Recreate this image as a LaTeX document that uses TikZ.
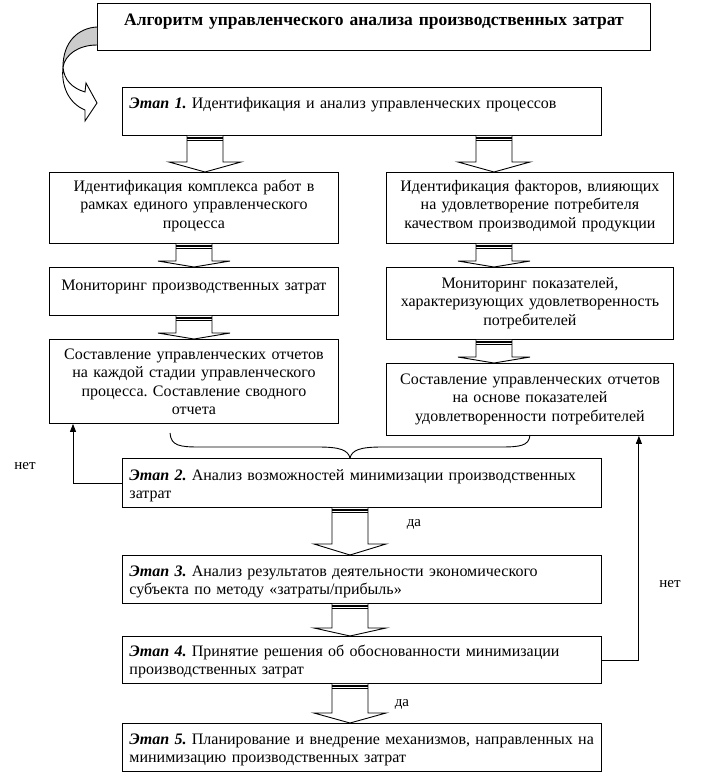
\documentclass[tikz,border=0pt]{standalone}
\usepackage{fontspec}
\setmainfont{Liberation Serif}
\usetikzlibrary{positioning, arrows.meta, calc}

\tikzset{
  box/.style={draw, line width=0.9pt, fill=white, inner ysep=0pt, anchor=north west},
  stagebox/.style={box, text width=465pt, inner xsep=7pt, align=left},
  colbox/.style={box, inner xsep=4pt, align=center},
  fback/.style={line width=0.9pt, -{Triangle[width=6pt,length=8pt]}},
  lbl/.style={inner sep=1pt, font=\fontsize{15pt}{17pt}\selectfont},
}

\newcommand{\stage}[1]{\textbf{\textit{Этап #1.}}}

% hollow block arrow: x, upper node, lower node, head height
\newcommand{\blockarrow}[4]{%
  \coordinate (bt) at (#1,0 |- #2.south);
  \coordinate (bb) at (#1,0 |- #3.north);
  \draw[line width=0.9pt, fill=white] ($(bt)+(-18,0)$) -- ($(bb)+(-18,-#4)$) -- ($(bb)+(-36,-#4)$)
    -- (bb) -- ($(bb)+(36,-#4)$) -- ($(bb)+(18,-#4)$) -- ($(bt)+(18,0)$);
  \draw[line width=1.5pt] ($(bt)+(-18,2.3)$) -- ($(bt)+(18,2.3)$);
  \draw[line width=0.9pt] ($(bt)+(-18,5)$) -- ($(bt)+(18,5)$);
}

\begin{document}
\frenchspacing
\begin{tikzpicture}[x=1pt, y=-1pt, font=\fontsize{16pt}{18.5pt}\selectfont]
    \useasboundingbox (0,0) rectangle (712,774);

    % Title
    \node[box, text width=545pt, inner xsep=4pt, align=center, text height=22pt, text depth=25pt,
      font=\fontsize{17.5pt}{20pt}\selectfont] (titlebox) at (97,3)
      {\textbf{Алгоритм управленческого анализа производственных затрат}};

    % Stage 1
    \node[stagebox, text height=21pt, text depth=27pt] (st1) at (122,87)
      {\stage{1} Идентификация и анализ управленческих процессов};

    % Two columns
    \node[colbox, text width=281pt, text height=19pt, text depth=52pt] (lid) at (49,172)
      {Идентификация комплекса работ в\\ рамках единого управленческого\\ процесса};
    \node[colbox, text width=279pt, text height=19pt, text depth=52pt] (rid) at (386,172)
      {Идентификация факторов, влияющих\\ на удовлетворение потребителя\\ качеством производимой продукции};
    \node[colbox, text width=281pt, text height=23pt, text depth=25pt] (lmon) at (49,267)
      {Мониторинг производственных затрат};
    \node[colbox, text width=279pt, text height=21pt, text depth=51pt] (rmon) at (386,267)
      {Мониторинг показателей,\\ характеризующих удовлетворенность\\ потребителей};
    \node[colbox, text width=281pt, text height=20pt, text depth=64pt] (lrep) at (49,339)
      {Составление управленческих отчетов\\ на каждой стадии управленческого\\ процесса. Составление сводного\\ отчета};
    \node[colbox, text width=279pt, text height=21pt, text depth=51pt] (rrep) at (386,363)
      {Составление управленческих отчетов\\ на основе показателей\\ удовлетворенности потребителей};

    % Stages 2-5
    \node[stagebox, text height=22pt, text depth=27pt] (st2) at (122,458)
      {\stage{2} Анализ возможностей минимизации производственных\\ затрат};
    \node[stagebox, text height=21pt, text depth=27pt] (st3) at (122,555)
      {\stage{3} Анализ результатов деятельности экономического\\ субъекта по методу «затраты/прибыль»};
    \node[stagebox, text height=20pt, text depth=27pt] (st4) at (122,636)
      {\stage{4} Принятие решения об обоснованности минимизации\\ производственных затрат};
    \node[stagebox, text height=21pt, text depth=27pt] (st5) at (122,723)
      {\stage{5} Планирование и внедрение механизмов, направленных на\\ минимизацию производственных затрат};

    % Block arrows
    \blockarrow{205}{st1}{lid}{10}
    \blockarrow{494}{st1}{rid}{10}
    \blockarrow{194}{lid}{lmon}{6}
    \blockarrow{494}{rid}{rmon}{6}
    \blockarrow{194}{lmon}{lrep}{6}
    \blockarrow{494}{rmon}{rrep}{6}
    \blockarrow{350}{st2}{st3}{11}
    \blockarrow{350}{st3}{st4}{8}
    \blockarrow{350}{st4}{st5}{10}

    % Curved arrow from the title
    \fill[gray!40] (97,27) .. controls (78,28) and (63,42) .. (63,67)
      .. controls (65,55) and (78,45) .. (97,45) -- cycle;
    \draw[line width=0.9pt] (97,27) .. controls (78,28) and (63,42) .. (63,67);
    \draw[line width=0.9pt] (97,45) .. controls (78,45) and (65,55) .. (63,67);
    \draw[line width=0.9pt, fill=white] (63,67) .. controls (61,85) and (68,103) .. (85,110)
      -- (85,121) -- (97,103) -- (86,83) -- (85,92) .. controls (72,88) and (64,80) .. (63,67);

    % Brace into stage 2
    \coordinate (brL) at (170,433);
    \coordinate (brR) at (530,435);
    \coordinate (brT) at (350,458);
    \draw[line width=0.9pt] (brL) .. controls (171,446) and (180,447) .. (200,447) -- (318,447)
      .. controls (340,447) and (348,450) .. (brT);
    \draw[line width=0.9pt] (brR) .. controls (529,446) and (520,447) .. (500,447) -- (382,447)
      .. controls (360,447) and (352,450) .. (brT);

    % Feedback lines
    \draw[fback] (st2.west) -| ([xshift=24pt]lrep.south west);
    \draw[fback] (st4.east) -| ([xshift=-35pt]rrep.south east);

    % Labels
    \node[lbl] (no1) at (25,466) {нет};
    \node[lbl] (yes1) at (414,524) {да};
    \node[lbl] (no2) at (670,584) {нет};
    \node[lbl] (yes2) at (402,704) {да};
\end{tikzpicture}
\end{document}
